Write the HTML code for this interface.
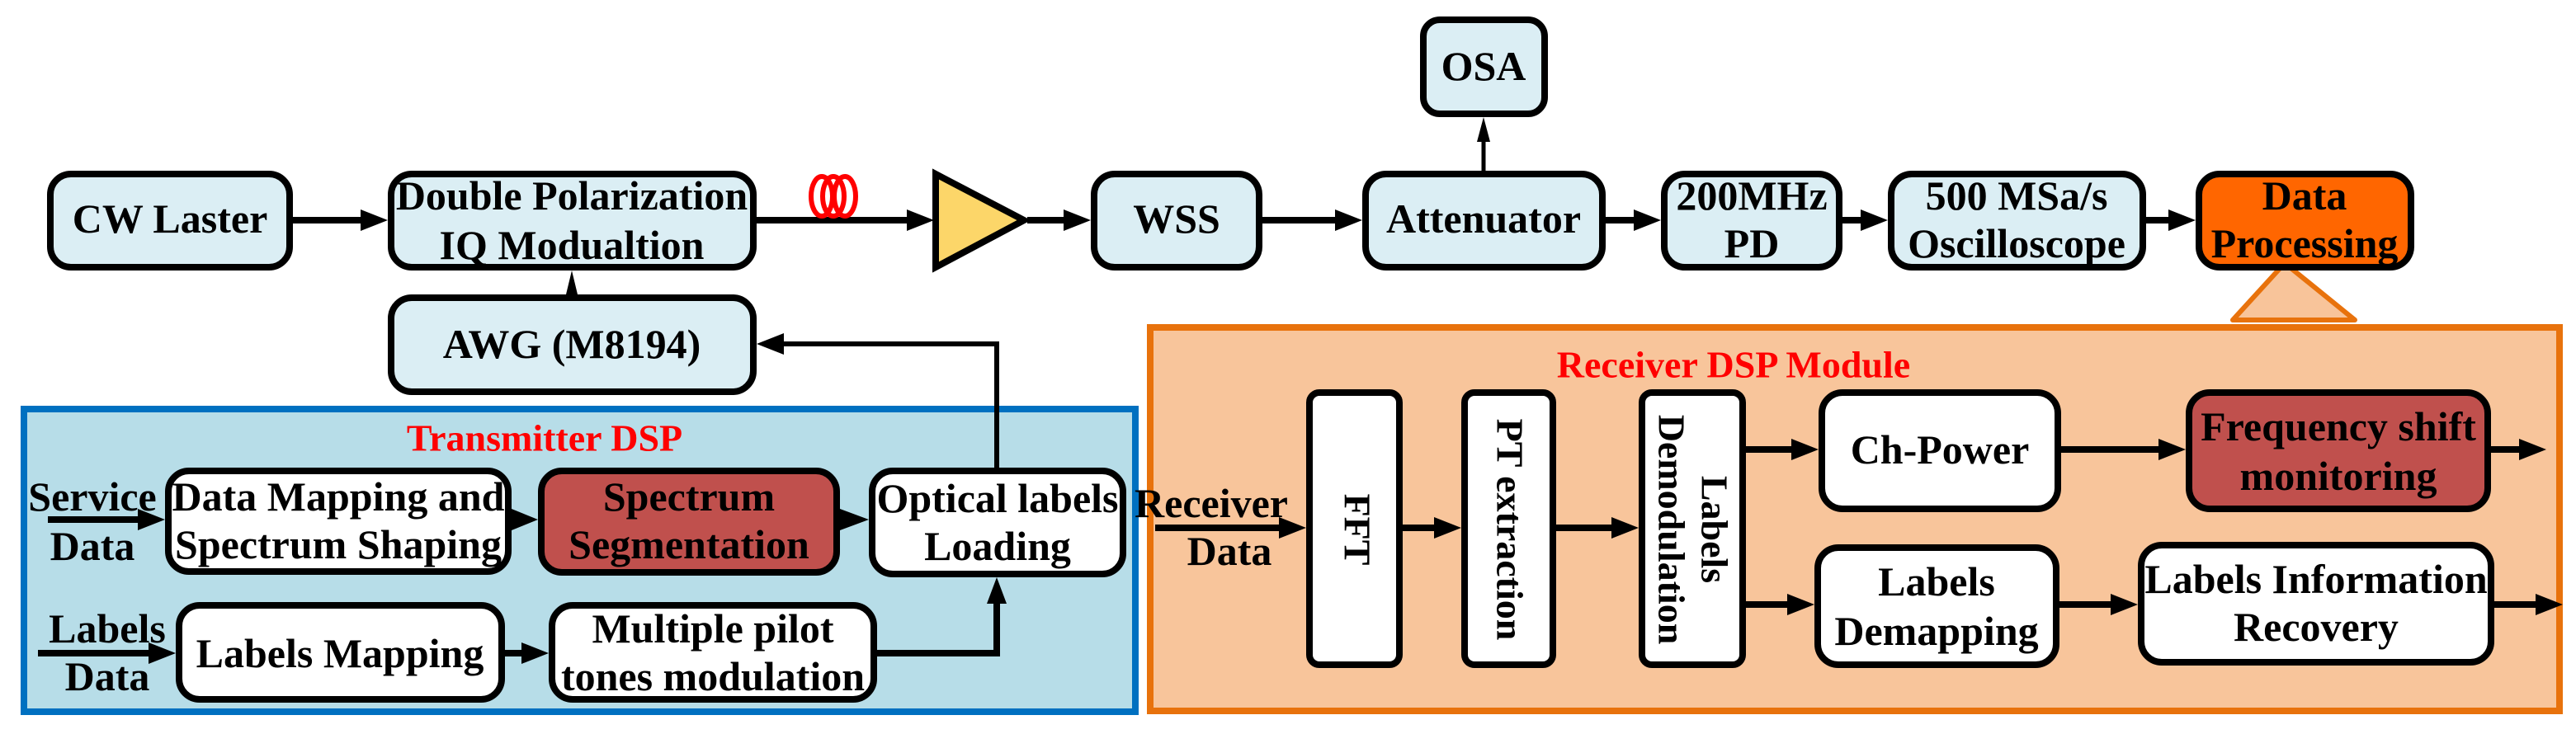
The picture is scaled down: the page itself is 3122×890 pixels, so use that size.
<!DOCTYPE html>
<html><head><meta charset="utf-8"><style>
html,body{margin:0;padding:0;background:#fff;}
svg{display:block;}
svg text{font-family:"Liberation Serif","Times New Roman","DejaVu Serif",serif !important;font-weight:bold;}
</style></head><body>
<svg width="3122" height="890" viewBox="0 0 3122 890" xmlns="http://www.w3.org/2000/svg" font-family="Liberation Serif, Times New Roman, DejaVu Serif, serif" font-weight="bold">
<rect x="29" y="496" width="1347" height="367" fill="#b7dde8" stroke="#0070c0" stroke-width="8"/>
<rect x="1394" y="397" width="1708" height="465" fill="#f8c59b" stroke="#e8720c" stroke-width="8"/>
<polygon points="2769,319 2706,388 2854,388" fill="#f8c49a" stroke="#e8720c" stroke-width="6" stroke-linejoin="round"/>

<g stroke="#000" stroke-width="8">
<rect x="61" y="211" width="290" height="113" rx="25" fill="#dbeef4"/>
<rect x="474" y="211" width="439" height="113" rx="25" fill="#dbeef4"/>
<rect x="1326" y="211" width="200" height="113" rx="25" fill="#dbeef4"/>
<rect x="1655" y="211" width="287" height="113" rx="25" fill="#dbeef4"/>
<rect x="2017" y="211" width="212" height="113" rx="25" fill="#dbeef4"/>
<rect x="2292" y="211" width="305" height="113" rx="25" fill="#dbeef4"/>
<rect x="2665" y="211" width="257" height="113" rx="25" fill="#ff6600"/>
<rect x="1725" y="24" width="147" height="114" rx="20" fill="#dbeef4"/>
<rect x="474" y="361" width="439" height="114" rx="25" fill="#dbeef4"/>
<polygon points="1134,211 1134,324 1241,267" fill="#fcd669" stroke-linejoin="miter"/>
<rect x="204" y="571" width="412" height="122" rx="25" fill="#fff"/>
<rect x="656" y="571" width="358" height="123" rx="25" fill="#c0504d"/>
<rect x="1057" y="571" width="304" height="125" rx="25" fill="#fff"/>
<rect x="217" y="734" width="391" height="114" rx="25" fill="#fff"/>
<rect x="669" y="734" width="390" height="114" rx="25" fill="#fff"/>
<rect x="1587" y="476" width="109" height="330" rx="12" fill="#fff"/>
<rect x="1775" y="476" width="107" height="330" rx="12" fill="#fff"/>
<rect x="1990" y="476" width="122" height="330" rx="12" fill="#fff"/>
<rect x="2208" y="476" width="286" height="141" rx="25" fill="#fff"/>
<rect x="2653" y="476" width="362" height="141" rx="25" fill="#c0504d"/>
<rect x="2203" y="664" width="289" height="142" rx="25" fill="#fff"/>
<rect x="2595" y="661" width="424" height="142" rx="25" fill="#fff"/>
</g>

<g stroke="#000" stroke-width="8" fill="none">
<path d="M355 267H440M917 267H1102M1245 267H1292M1530 267H1621M1946 267H1983M2233 267H2258M2601 267H2631"/>
<path d="M58 630H170M46 792H183M612 792H635M1063 792H1208V732"/>
<path d="M1400 640H1553M1700 640H1741M1886 640H1956"/>
<path d="M2116 545H2174M2498 545H2619M3019 545H3056M2116 733H2169M2496 733H2561M3023 733H3076"/>
</g>
<path d="M1208 567V417H948" stroke="#000" stroke-width="6" fill="none"/>
<path d="M1798 207V168" stroke="#000" stroke-width="5" fill="none"/>
<g fill="#000">
<polygon points="437,254 470,267 437,280"/>
<polygon points="1099,254 1132,267 1099,280"/>
<polygon points="1289,254 1322,267 1289,280"/>
<polygon points="1618,254 1651,267 1618,280"/>
<polygon points="1980,254 2013,267 1980,280"/>
<polygon points="2255,254 2288,267 2255,280"/>
<polygon points="2628,254 2661,267 2628,280"/>
<polygon points="1798,142 1790,172 1806,172"/>
<polygon points="693,328 686,357 700,357"/>
<polygon points="917,417 950,404 950,430"/>
<polygon points="167,617 200,630 167,643"/>
<polygon points="620,617 652,630 620,643"/>
<polygon points="1018,617 1053,630 1018,643"/>
<polygon points="180,779 213,792 180,805"/>
<polygon points="632,779 665,792 632,805"/>
<polygon points="1208,700 1196,732 1220,732"/>
<polygon points="1550,627 1583,640 1550,653"/>
<polygon points="1738,627 1771,640 1738,653"/>
<polygon points="1953,627 1986,640 1953,653"/>
<polygon points="2171,532 2204,545 2171,558"/>
<polygon points="2616,532 2649,545 2616,558"/>
<polygon points="3053,532 3086,545 3053,558"/>
<polygon points="2166,720 2199,733 2166,746"/>
<polygon points="2558,720 2591,733 2558,746"/>
<polygon points="3073,720 3106,733 3073,746"/>
</g>

<g fill="none" stroke="#f00" stroke-width="6">
<ellipse cx="996" cy="238" rx="13" ry="24"/>
<ellipse cx="1010" cy="238" rx="13" ry="24"/>
<ellipse cx="1024" cy="238" rx="13" ry="24"/>
</g>

<g font-size="50" text-anchor="middle" dominant-baseline="central" fill="#000">
<text x="206" y="265">CW Laster</text>
<text x="693" y="237">Double Polarization</text>
<text x="693" y="297">IQ Modualtion</text>
<text x="1426" y="265">WSS</text>
<text x="1798" y="80">OSA</text>
<text x="1798" y="265">Attenuator</text>
<text x="2123" y="237">200MHz</text>
<text x="2123" y="295">PD</text>
<text x="2444" y="237">500 MSa/s</text>
<text x="2444" y="295">Oscilloscope</text>
<text x="2793" y="237">Data</text>
<text x="2793" y="295">Processing</text>
<text x="693" y="417">AWG (M8194)</text>
<text x="410" y="602">Data Mapping and</text>
<text x="410" y="660">Spectrum Shaping</text>
<text x="835" y="602">Spectrum</text>
<text x="835" y="660">Segmentation</text>
<text x="1209" y="604">Optical labels</text>
<text x="1209" y="662">Loading</text>
<text x="412" y="792">Labels Mapping</text>
<text x="864" y="762">Multiple pilot</text>
<text x="864" y="820">tones modulation</text>
<text x="112" y="602">Service</text>
<text x="112" y="662">Data</text>
<text x="130" y="762">Labels</text>
<text x="130" y="820">Data</text>
<text x="1468" y="610">Receiver</text>
<text x="1490" y="668">Data</text>
<text x="2351" y="545">Ch-Power</text>
<text x="2834" y="517">Frequency shift</text>
<text x="2834" y="577">monitoring</text>
<text x="2347" y="705">Labels</text>
<text x="2347" y="765">Demapping</text>
<text x="2807" y="702">Labels Information</text>
<text x="2807" y="760">Recovery</text>
</g>
<g font-size="46" text-anchor="middle" dominant-baseline="central" fill="#000">
<text transform="translate(1645,642) rotate(90)">FFT</text>
<text transform="translate(1830,642) rotate(90)">PT extraction</text>
<text transform="translate(2078,642) rotate(90)">Labels</text>
<text transform="translate(2026,642) rotate(90)">Demodulation</text>
</g>
<g font-size="46" text-anchor="middle" dominant-baseline="central" fill="#f00">
<text x="660" y="531">Transmitter DSP</text>
<text x="2101" y="442">Receiver DSP Module</text>
</g>
</svg>
</body></html>
